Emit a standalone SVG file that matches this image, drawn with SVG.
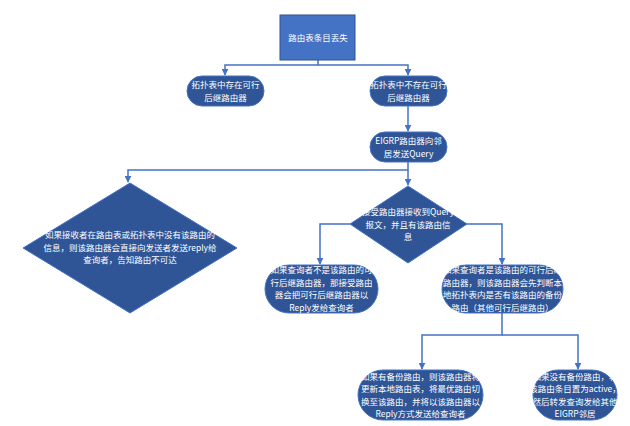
<svg xmlns="http://www.w3.org/2000/svg" width="630" height="426" viewBox="0 0 630 426">
<defs>
<style>
.bg{fill:#ffffff}
.rect{fill:#4472C4;stroke:#2F528F;stroke-width:1}
.node{fill:#2F5597;stroke:#4472C4;stroke-width:1}
.t{fill:#ffffff;font-family:"Noto Sans CJK SC","Noto Sans",sans-serif;font-size:8.5px;text-anchor:middle}
.c{fill:none;stroke:#4472C4;stroke-width:1.5}
</style>
<marker id="ah" viewBox="0 0 10 10" refX="9" refY="5" markerWidth="7" markerHeight="7" markerUnits="userSpaceOnUse" orient="auto">
<path d="M0,0 L10,5 L0,10 z" fill="#4472C4"/>
</marker>
</defs>
<rect class="bg" x="0" y="0" width="630" height="426"/>
<g id="connectors">
<path class="c" d="M318,60 V65 H225 V75" marker-end="url(#ah)"/>
<path class="c" d="M318,65 H408 V75" marker-end="url(#ah)"/>
<path class="c" d="M408,106 V131" marker-end="url(#ah)"/>
<path class="c" d="M408,162 V170 H128 V182" marker-end="url(#ah)"/>
<path class="c" d="M408,170 V185" marker-end="url(#ah)"/>
<path class="c" d="M350,224 H320 V264" marker-end="url(#ah)"/>
<path class="c" d="M467,224 H502 V264" marker-end="url(#ah)"/>
<path class="c" d="M502,313 V335 H422 V369" marker-end="url(#ah)"/>
<path class="c" d="M502,335 H578 V369" marker-end="url(#ah)"/>
</g>
<g id="n1">
<rect class="rect" x="280" y="15" width="75" height="45"/>
<text class="t" x="318" y="41">路由表条目丢失</text>
</g>
<g id="n2">
<rect class="node" x="187" y="76" width="77" height="30" rx="15"/>
<text class="t" x="225.5" y="88">拓扑表中存在可行</text>
<text class="t" x="225.5" y="100.5">后继路由器</text>
</g>
<g id="n3">
<rect class="node" x="370" y="76" width="77" height="30" rx="15"/>
<text class="t" x="408.5" y="88">拓扑表中不存在可行</text>
<text class="t" x="408.5" y="100.5">后继路由器</text>
</g>
<g id="n4">
<rect class="node" x="370" y="132" width="77" height="30" rx="15"/>
<text class="t" x="408.5" y="144">EIGRP路由器向邻</text>
<text class="t" x="408.5" y="156.5">居发送Query</text>
</g>
<g id="n5">
<polygon class="node" points="130,183 237,248 130,313 23,248"/>
<text class="t" x="130" y="238">如果接收者在路由表或拓扑表中没有该路由的</text>
<text class="t" x="130" y="250.5">信息，则该路由器会直接向发送者发送reply给</text>
<text class="t" x="130" y="263">查询者，告知路由不可达</text>
</g>
<g id="n6">
<polygon class="node" points="408,186 467,224 408,263 350,224"/>
<text class="t" x="408" y="215">接受路由器接收到Query</text>
<text class="t" x="408" y="227.5">报文，并且有该路由信</text>
<text class="t" x="408" y="240">息</text>
</g>
<g id="n7">
<rect class="node" x="265" y="265" width="113" height="48" rx="24"/>
<text class="t" x="321.5" y="273">如果查询者不是该路由的可</text>
<text class="t" x="321.5" y="285.5">行后继路由器，那接受路由</text>
<text class="t" x="321.5" y="298">器会把可行后继路由器以</text>
<text class="t" x="321.5" y="310.5">Reply发给查询者</text>
</g>
<g id="n8">
<rect class="node" x="442" y="265" width="121" height="48" rx="24"/>
<text class="t" x="502.5" y="273">如果查询者是该路由的可行后继</text>
<text class="t" x="502.5" y="285.5">路由器，则该路由器会先判断本</text>
<text class="t" x="502.5" y="298">地拓扑表内是否有该路由的备份</text>
<text class="t" x="502.5" y="310.5">路由（其他可行后继路由）</text>
</g>
<g id="n9">
<rect class="node" x="358" y="370" width="125" height="50" rx="25"/>
<text class="t" x="420.5" y="379.5">如果有备份路由，则该路由器将</text>
<text class="t" x="420.5" y="392">更新本地路由表，将最优路由切</text>
<text class="t" x="420.5" y="404.5">换至该路由，并将以该路由器以</text>
<text class="t" x="420.5" y="417">Reply方式发送给查询者</text>
</g>
<g id="n10">
<rect class="node" x="533" y="370" width="84" height="50" rx="25"/>
<text class="t" x="575" y="379.5">如果没有备份路由，将</text>
<text class="t" x="575" y="392">该路由条目置为active，</text>
<text class="t" x="575" y="404.5">然后转发查询发给其他</text>
<text class="t" x="575" y="417">EIGRP邻居</text>
</g>
</svg>
